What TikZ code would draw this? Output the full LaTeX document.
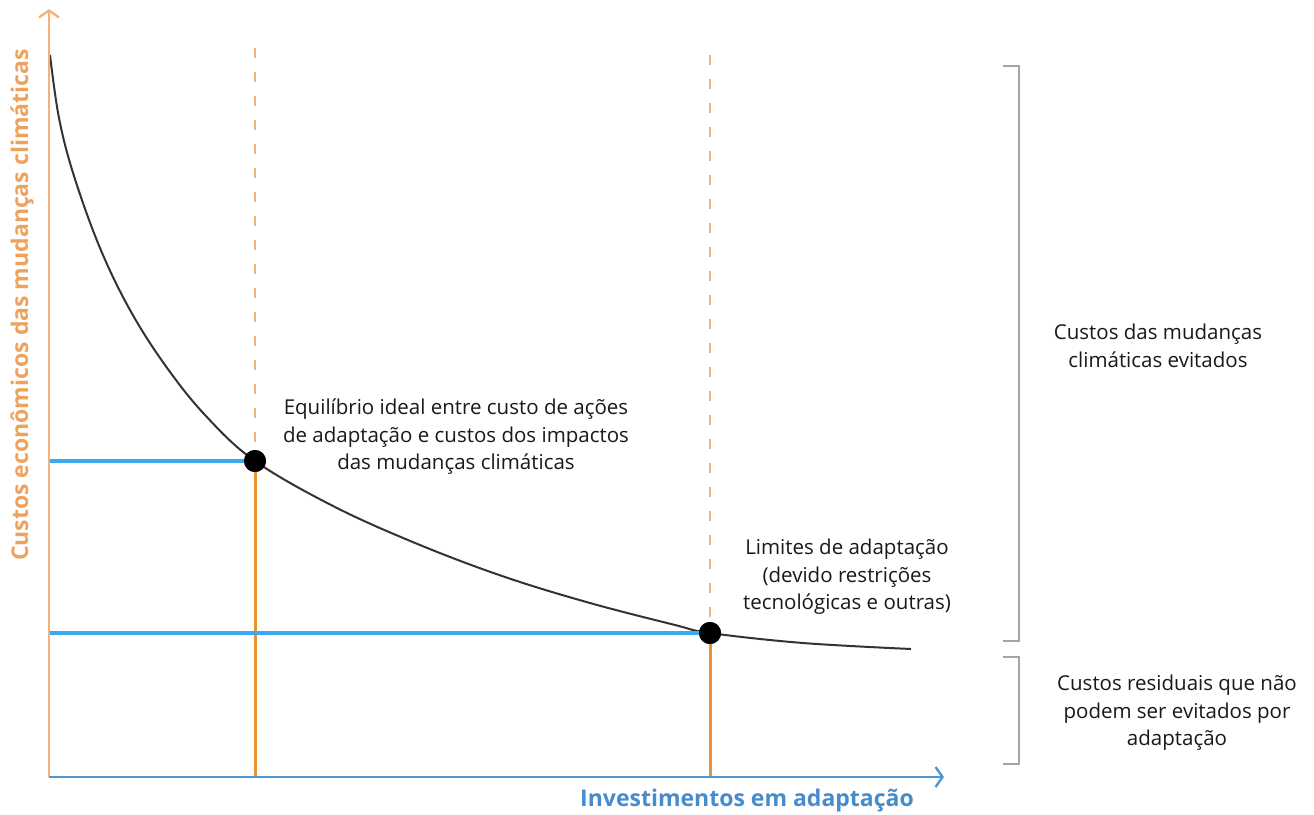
\documentclass[tikz,border=0pt]{standalone}
\usepackage{fontspec}
\setmainfont{Open Sans}
\usetikzlibrary{arrows.meta}
\definecolor{axisorange}{RGB}{244,177,120}
\definecolor{labelorange}{RGB}{238,163,92}
\definecolor{lineorange}{RGB}{237,145,52}
\definecolor{axisblue}{RGB}{80,150,210}
\definecolor{labelblue}{RGB}{70,140,205}
\definecolor{lineblue}{RGB}{55,170,240}
\definecolor{bracketgray}{RGB}{165,165,165}
\tikzset{
  txt/.style={align=center, inner sep=0pt, font=\fontsize{20.5}{27.5}\selectfont, text=black!90},
  axlabel/.style={inner sep=0pt, font=\fontsize{23}{26}\selectfont\bfseries},
  dot/.style={circle, fill=black, minimum size=22pt, inner sep=0pt},
  guide/.style={axisorange, line width=2.2pt, dash pattern=on 10pt off 14pt},
  drop/.style={lineorange, line width=3pt},
  level/.style={lineblue, line width=3.4pt},
  brk/.style={bracketgray, line width=2.2pt},
  tipA/.style={-{Straight Barb[length=7pt,width=20pt,line width=2.4pt]}}
}
\begin{document}
\begin{tikzpicture}[x=1pt,y=-1pt]
\useasboundingbox (0,0) rectangle (1314,814);
% coordinates
\coordinate (O) at (49,777);
\coordinate (ytop) at (49,9);
\coordinate (xend) at (944,777);
\coordinate (ya) at (49,461);
\coordinate (yb) at (49,633);
\coordinate (xa) at (255,777);
\coordinate (xb) at (710,777);
\coordinate (ga) at (255,48);
\coordinate (gb) at (710,55);
% curve
\draw[black!80, line width=2pt] plot[smooth, tension=0.6] coordinates {
 (50,55) (59,118) (74,176) (100,248) (130,310) (165,365) (205,415) (255,461)
 (335,507) (420,545) (505,577) (590,603) (675,625) (710,633) (803,643) (911,649)};
% dots
\node[dot] (p1) at (255,461) {};
\node[dot] (p2) at (710,633) {};
% guides
\draw[guide] (ga) -- (p1.north);
\draw[guide] (gb) -- (p2.north);
\draw[drop] (p1.center) -- (xa);
\draw[drop] (p2.center) -- (xb);
\draw[level] (ya) -- (p1.center);
\draw[level] (yb) -- (p2.center);
\node[dot] at (p1) {};
\node[dot] at (p2) {};
% axes
\draw[axisorange, line width=2.2pt, tipA] (O) -- (ytop);
\draw[axisblue, line width=2.8pt, tipA] (O) -- (xend);
% axis labels
\node[axlabel, text=labelorange, rotate=90] (ylab) at (22,305) {Custos econômicos das mudanças climáticas};
\node[axlabel, text=labelblue] (xlab) at (747,801) {Investimentos em adaptação};
% annotations
\node[txt] (t1) at (456,437) {Equilíbrio ideal entre custo de ações\\de adaptação e custos dos impactos\\das mudanças climáticas};
\node[txt] (t2) at (847,577) {Limites de adaptação\\(devido restrições\\tecnológicas e outras)};
\node[txt] (t3) at (1158,346) {Custos das mudanças\\climáticas evitados};
\node[txt] (t4) at (1177,713) {Custos residuais que não\\podem ser evitados por\\adaptação};
% brackets
\coordinate (b1a) at (1003,66);
\coordinate (b1b) at (1019,66);
\coordinate (b1c) at (1019,641);
\coordinate (b1d) at (1003,641);
\draw[brk] (b1a) -- (b1b) -- (b1c) -- (b1d);
\coordinate (b2a) at (1003,657);
\coordinate (b2b) at (1019,657);
\coordinate (b2c) at (1019,764);
\coordinate (b2d) at (1003,764);
\draw[brk] (b2a) -- (b2b) -- (b2c) -- (b2d);
\end{tikzpicture}
\end{document}
